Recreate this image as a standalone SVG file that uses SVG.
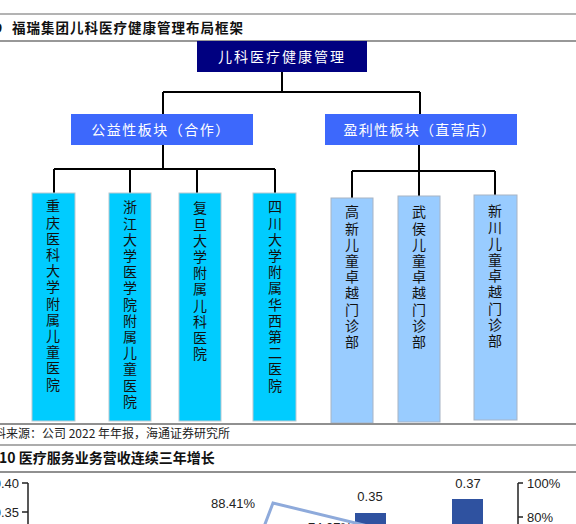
<svg xmlns="http://www.w3.org/2000/svg" width="576" height="524" viewBox="0 0 576 524">
<style>
.cjk{font-family:"Noto Sans CJK SC","Noto Sans",sans-serif}
.lat{font-family:"Liberation Sans",Arial,sans-serif}
.wt{fill:#ffffff;font-size:14px}
.leafA{fill:#00ccff;stroke:#b8c8d0;stroke-width:1}
.leafB{fill:#99ccff;stroke:#a8b4c4;stroke-width:1}
.mid{fill:#3d68fc}
.vt{font-size:14px;fill:#111;writing-mode:vertical-rl;letter-spacing:2.2px}
.conn{stroke:#000;stroke-width:2;fill:none}
.ax{stroke:#222;stroke-width:1.5;fill:none}
.num{font-size:13px;fill:#222}
</style>
<rect width="576" height="524" fill="#ffffff"/>
<!-- header -->
<line x1="0" y1="14" x2="576" y2="14" stroke="#9a9a9a" stroke-width="1.5"/>
<text class="cjk" x="-6" y="33" font-size="14" font-weight="bold" fill="#111">9</text>
<text class="cjk" x="12" y="33" font-size="13.5" font-weight="bold" fill="#111" textLength="231" lengthAdjust="spacing">福瑞集团儿科医疗健康管理布局框架</text>
<line x1="0" y1="41" x2="576" y2="41" stroke="#333" stroke-width="1.2"/>

<!-- connectors -->
<g id="connectors">
<path class="conn" d="M282 72 V92 M163 92 H420 M163 92 V114 M420 92 V114"/>
<path class="conn" d="M163 145 V169 M54 169 H275 M54 169 V193 M130 169 V193 M197 169 V193 M275 169 V193"/>
<path class="conn" d="M419 145 V171 M352 171 H495 M352 171 V198 M419 171 V196 M495 171 V195"/>
</g>

<g id="root">
<rect x="197" y="41" width="170" height="31" fill="#000080"/>
<text class="cjk wt" x="282" y="62" text-anchor="middle" letter-spacing="2">儿科医疗健康管理</text>
</g>

<g id="mid-left">
<rect class="mid" x="71" y="114" width="182" height="31"/>
<text class="cjk wt" x="161" y="135" text-anchor="middle" letter-spacing="1.5">公益性板块（合作）</text>
</g>
<g id="mid-right">
<rect class="mid" x="325" y="114" width="192" height="31"/>
<text class="cjk wt" x="420" y="135" text-anchor="middle" letter-spacing="1.3">盈利性板块（直营店）</text>
</g>

<g id="leaf-cq">
<rect class="leafA" x="32" y="193" width="43" height="228"/>
<text class="cjk vt" x="53" y="199">重庆医科大学附属儿童医院</text>
</g>
<g id="leaf-zj">
<rect class="leafA" x="109" y="193" width="42" height="228"/>
<text class="cjk vt" x="130" y="200">浙江大学医学院附属儿童医院</text>
</g>
<g id="leaf-fd">
<rect class="leafA" x="179" y="193" width="42" height="228"/>
<text class="cjk vt" x="200" y="201">复旦大学附属儿科医院</text>
</g>
<g id="leaf-sc">
<rect class="leafA" x="253" y="193" width="43" height="228"/>
<text class="cjk vt" x="275" y="200">四川大学附属华西第二医院</text>
</g>

<g id="leaf-gx">
<rect class="leafB" x="331" y="198" width="42" height="225"/>
<text class="cjk vt" x="352" y="205" letter-spacing="2">高新儿童卓越门诊部</text>
</g>
<g id="leaf-wh">
<rect class="leafB" x="398" y="196" width="42" height="226"/>
<text class="cjk vt" x="419" y="205" letter-spacing="2">武侯儿童卓越门诊部</text>
</g>
<g id="leaf-xc">
<rect class="leafB" x="474" y="195" width="43" height="225"/>
<text class="cjk vt" x="495" y="204" letter-spacing="1.8">新川儿童卓越门诊部</text>
</g>

<!-- footer -->
<line x1="0" y1="424" x2="576" y2="424" stroke="#909090" stroke-width="2"/>
<text class="cjk" x="-18" y="438" font-size="12" fill="#222">资料来源：公司 2022 年年报，海通证券研究所</text>
<line x1="0" y1="445" x2="576" y2="445" stroke="#909090" stroke-width="1.5"/>
<text class="cjk" x="-1" y="463" font-size="14" font-weight="bold" fill="#111">10 医疗服务业务营收连续三年增长</text>
<line x1="0" y1="472" x2="576" y2="472" stroke="#222" stroke-width="1.2"/>

<!-- chart fragment -->
<path class="ax" d="M28 483 V530 M22 483 H28 M22 512 H28"/>
<text class="lat num" x="19" y="488" text-anchor="end">0.40</text>
<text class="lat num" x="19" y="517" text-anchor="end">0.35</text>
<path class="ax" d="M518 483 V530 M518 483 H523 M518 517 H523"/>
<text class="lat num" x="527" y="488">100%</text>
<text class="lat num" x="527" y="522">80%</text>
<rect x="355" y="513" width="31" height="20" fill="#2f52a0"/>
<rect x="452" y="499" width="31" height="30" fill="#2f52a0"/>
<text class="lat num" x="370" y="501" text-anchor="middle">0.35</text>
<text class="lat num" x="468" y="488" text-anchor="middle">0.37</text>
<polyline points="262,532 273,503 372,527" fill="none" stroke="#8eaadb" stroke-width="3" stroke-linejoin="miter"/>
<text class="lat num" x="211" y="508">88.41%</text>
<text class="lat num" x="308" y="532">74.07%</text>
</svg>
